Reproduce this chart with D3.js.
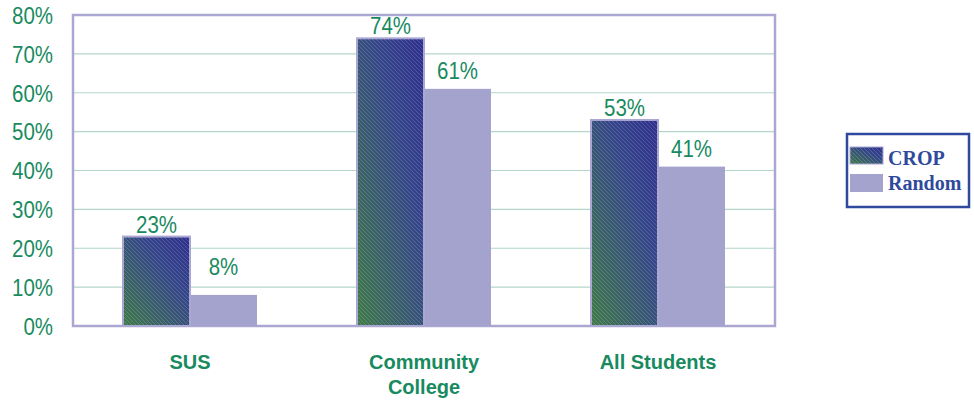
<!DOCTYPE html>
<html>
<head>
<meta charset="utf-8">
<script src="https://cdn.jsdelivr.net/npm/d3@7"></script>
<style>
  html, body { margin: 0; padding: 0; background: #ffffff; }
  svg { display: block; }
</style>
</head>
<body>
<svg id="chart" width="974" height="402"></svg>
<script>
// Chart data
const categories = ["SUS", "Community College", "All Students"];
const categoryLines = [["SUS"], ["Community", "College"], ["All Students"]];
const seriesNames = ["CROP", "Random"];
const cropValues = [0.23, 0.74, 0.53];
const randomValues = [0.08, 0.61, 0.41];
const yTicks = [0, 0.1, 0.2, 0.3, 0.4, 0.5, 0.6, 0.7, 0.8];

const green = "#188a60";
const lavender = "#aaa7d3";
const randomFill = "#a4a3cd";
const legendBlue = "#2f4a9c";

const svg = d3.select("#chart");
const plot = { left: 73, right: 775, top: 15, bottom: 326 };

const y = d3.scaleLinear().domain([0, 0.8]).range([plot.bottom, plot.top]);
const x0 = d3.scaleBand().domain(categories).range([plot.left, plot.right])
  .paddingInner(0.4274).paddingOuter(0.2137);
const x1 = d3.scaleBand().domain(seriesNames).range([0, x0.bandwidth()]).padding(0);

// Fills: diagonal blue-to-green gradient with fine light hatching
const defs = svg.append("defs");
const grad = defs.append("linearGradient").attr("id", "cropGrad")
  .attr("x1", 1).attr("y1", 0).attr("x2", 0).attr("y2", 1);
grad.append("stop").attr("offset", 0).attr("stop-color", "#2e2f8c");
grad.append("stop").attr("offset", 0.35).attr("stop-color", "#34448a");
grad.append("stop").attr("offset", 1).attr("stop-color", "#3f7a48");

const hatch = defs.append("pattern").attr("id", "cropHatch")
  .attr("patternUnits", "userSpaceOnUse").attr("width", 4).attr("height", 4);
hatch.append("path").attr("d", "M-1,-1 L5,5 M-1,3 L1,5 M3,-1 L5,1")
  .attr("stroke", "#ffffff").attr("stroke-opacity", 0.22).attr("stroke-width", 0.8);

// Gridlines
svg.append("g").selectAll("line").data(yTicks.filter(t => t > 0 && t < 0.8)).join("line")
  .attr("x1", plot.left).attr("x2", plot.right)
  .attr("y1", d => y(d)).attr("y2", d => y(d))
  .attr("stroke", "#b3d6c9").attr("stroke-width", 1.2);

// Plot frame
svg.append("rect")
  .attr("x", plot.left).attr("y", plot.top)
  .attr("width", plot.right - plot.left).attr("height", plot.bottom - plot.top)
  .attr("fill", "none").attr("stroke", lavender).attr("stroke-width", 2.5);

// Y axis tick labels
const yAxis = d3.axisLeft(y).tickValues(yTicks).tickFormat(d3.format(".0%")).tickSize(0).tickPadding(0);
const yg = svg.append("g").attr("transform", `translate(${plot.left - 20},0)`).call(yAxis);
yg.select(".domain").remove();
yg.selectAll("text")
  .attr("x", null).attr("dy", "0.36em")
  .attr("fill", green)
  .style("font-family", "'Liberation Sans', Arial, sans-serif")
  .style("font-size", "23px")
  .attr("transform", "scale(0.89,1)");

// Bars
const groups = svg.append("g").selectAll("g").data(categories).join("g")
  .attr("transform", d => `translate(${x0(d)},0)`);

const barData = (c, i) => [
  { series: "CROP", value: cropValues[i] },
  { series: "Random", value: randomValues[i] }
];

groups.each(function (c, i) {
  const g = d3.select(this);
  const data = barData(c, i);
  // Random bar first so CROP border sits on top
  const r = data[1];
  g.append("rect")
    .attr("x", x1("Random")).attr("y", y(r.value))
    .attr("width", x1.bandwidth()).attr("height", y(0) - y(r.value))
    .attr("fill", randomFill);
  const c0 = data[0];
  g.append("rect")
    .attr("x", x1("CROP")).attr("y", y(c0.value))
    .attr("width", x1.bandwidth()).attr("height", y(0) - y(c0.value))
    .attr("fill", "url(#cropGrad)");
  g.append("rect")
    .attr("x", x1("CROP")).attr("y", y(c0.value))
    .attr("width", x1.bandwidth()).attr("height", y(0) - y(c0.value))
    .attr("fill", "url(#cropHatch)")
    .attr("stroke", lavender).attr("stroke-width", 2);

  // Value labels
  data.forEach(d => {
    const cx = x1(d.series) + x1.bandwidth() / 2;
    const by = d.series === "CROP" ? y(d.value) - 4 : Math.min(y(d.value) - 10, y(0.13));
    g.append("text")
      .attr("transform", `translate(${cx},${by}) scale(0.89,1)`)
      .attr("text-anchor", "middle")
      .attr("fill", green)
      .style("font-family", "'Liberation Sans', Arial, sans-serif")
      .style("font-size", "23px")
      .text(d3.format(".0%")(d.value));
  });
});

// Category labels
const catLabels = svg.append("g").selectAll("text").data(categories).join("text")
  .attr("x", d => x0(d) + x0.bandwidth() / 2)
  .attr("y", 369)
  .attr("text-anchor", "middle")
  .attr("fill", green)
  .style("font-family", "'Liberation Sans', Arial, sans-serif")
  .style("font-weight", "bold")
  .style("font-size", "20px");
catLabels.each(function (d, i) {
  d3.select(this).selectAll("tspan").data(categoryLines[i]).join("tspan")
    .attr("x", x0(d) + x0.bandwidth() / 2)
    .attr("dy", (t, j) => j === 0 ? 0 : 25)
    .text(t => t);
});

// Legend
const legend = svg.append("g");
legend.append("rect")
  .attr("x", 847).attr("y", 134).attr("width", 122).attr("height", 73)
  .attr("fill", "#ffffff").attr("stroke", legendBlue).attr("stroke-width", 2.5);
const legendRows = [
  { name: seriesNames[0], y: 147, h: 17, baseline: 165 },
  { name: seriesNames[1], y: 174, h: 18, baseline: 190 }
];
legendRows.forEach(row => {
  if (row.name === "CROP") {
    legend.append("rect").attr("x", 850).attr("y", row.y).attr("width", 33).attr("height", row.h)
      .attr("fill", "url(#cropGrad)");
    legend.append("rect").attr("x", 850).attr("y", row.y).attr("width", 33).attr("height", row.h)
      .attr("fill", "url(#cropHatch)").attr("stroke", lavender).attr("stroke-width", 1);
  } else {
    legend.append("rect").attr("x", 850).attr("y", row.y).attr("width", 33).attr("height", row.h)
      .attr("fill", randomFill);
  }
  legend.append("text")
    .attr("x", 888).attr("y", row.baseline)
    .attr("fill", legendBlue)
    .style("font-family", "'Liberation Serif', 'Times New Roman', serif")
    .style("font-weight", "bold")
    .style("font-size", "20px")
    .text(row.name);
});
</script>
</body>
</html>
